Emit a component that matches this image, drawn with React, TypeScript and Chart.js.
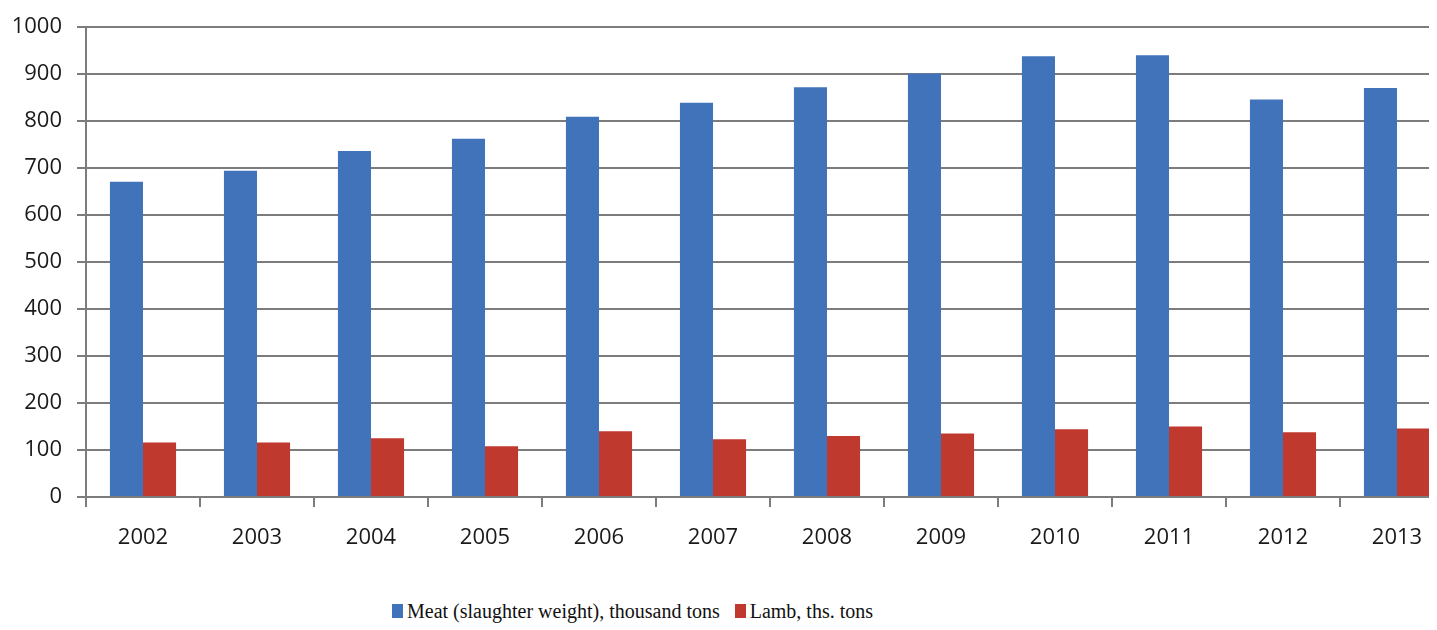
import { useEffect, useRef } from 'react';
import { Chart, registerables } from 'chart.js';

Chart.register(...registerables);

const years = ['2002', '2003', '2004', '2005', '2006', '2007', '2008', '2009', '2010', '2011', '2012', '2013'];
const meatValues = [671, 694, 736, 762, 809, 839, 872, 901, 938, 940, 846, 870];
const lambValues = [116, 116, 125, 108, 140, 123, 130, 135, 144, 150, 138, 146];
const seriesLabels = ['Meat (slaughter weight), thousand tons', 'Lamb, ths. tons'];
const seriesColors = ['#4073b9', '#c0392f'];
const yMin = 0;
const yMax = 1000;
const yStep = 100;

const gridColor = '#7c7c7c';
const tickColor = '#1a1a1a';
const tickFont = { family: '"Open Sans", "Liberation Sans", sans-serif', size: 22 };

export default function App() {
  const ref = useRef<HTMLCanvasElement>(null);

  useEffect(() => {
    if (!ref.current) return;
    const chart = new Chart(ref.current, {
      type: 'bar',
      data: {
        labels: years,
        datasets: [
          { label: seriesLabels[0], data: meatValues, backgroundColor: seriesColors[0], borderWidth: 0 },
          { label: seriesLabels[1], data: lambValues, backgroundColor: seriesColors[1], borderWidth: 0 },
        ],
      },
      options: {
        animation: false,
        responsive: false,
        devicePixelRatio: 1,
        layout: { padding: { top: 19, left: 0, right: 0, bottom: 0 } },
        datasets: { bar: { categoryPercentage: 0.58, barPercentage: 1 } },
        plugins: {
          legend: { display: false },
          tooltip: { enabled: false },
        },
        scales: {
          x: {
            grid: { drawOnChartArea: false, offset: true, tickLength: 10, color: gridColor, lineWidth: 2 },
            border: { color: gridColor, width: 2 },
            ticks: { font: tickFont, color: tickColor, padding: 18, maxRotation: 0 },
            afterFit: (s: any) => { s.height = 60; },
          },
          y: {
            min: yMin,
            max: yMax,
            ticks: {
              stepSize: yStep,
              font: tickFont,
              color: tickColor,
              padding: 15,
              callback: (v: any) => String(v),
            },
            grid: { color: gridColor, lineWidth: 2, tickLength: 9 },
            border: { color: gridColor, width: 2 },
            afterFit: (s: any) => {
              s.width = 78;
              s.paddingTop = 0;
              s.paddingBottom = 0;
            },
          },
        },
      },
    });
    return () => chart.destroy();
  }, []);

  return (
    <div style={{ background: '#fff' }}>
      <div style={{ width: 'calc(100% + 8px)', overflow: 'hidden' }}>
        <canvas ref={ref} width={1446} height={549} style={{ display: 'block', width: 1446, height: 549 }} />
      </div>
      <div
        style={{
          marginTop: 42,
          marginLeft: 384,
          display: 'flex',
          alignItems: 'center',
          fontFamily: '"Liberation Serif", "Times New Roman", serif',
          fontSize: 20,
          lineHeight: '24px',
          color: '#111',
          whiteSpace: 'nowrap',
        }}
      >
        {seriesLabels.map((label, i) => (
          <span key={label} style={{ display: 'inline-flex', alignItems: 'center', marginRight: 15 }}>
            <span style={{ display: 'inline-block', width: 11, height: 14, background: seriesColors[i], marginRight: 4 }} />
            <span>{label}</span>
          </span>
        ))}
      </div>
    </div>
  );
}
